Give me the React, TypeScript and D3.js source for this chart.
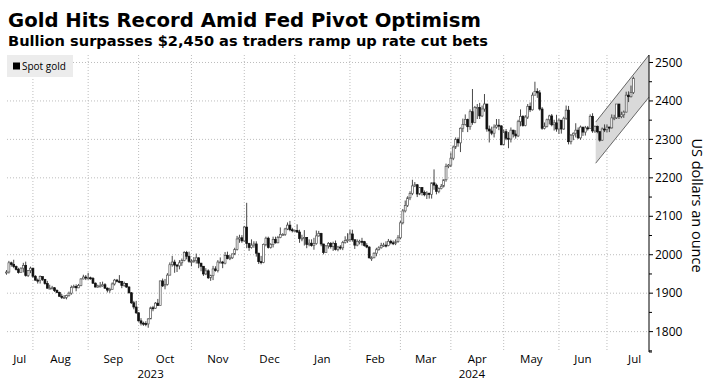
import React from "react";
import * as d3 from "d3";

const title = "Gold Hits Record Amid Fed Pivot Optimism";
const subtitle = "Bullion surpasses $2,450 as traders ramp up rate cut bets";
const seriesName = "Spot gold";
const yAxisTitle = "US dollars an ounce";

// Daily spot gold, weekdays 2023-07-17 .. 2024-07-16 (open = previous close)
const firstOpen = 1955;
const closes = [
  1955,1979,1975,1969,1962,1954,1965,1972,1946,1959,1965,
  1944,1934,1933,1943,1936,1925,1913,1913,1914,1907,1902,1892,1889,1889,1894,1900,1915,1917,1914,1920,1937,1942,1940,
  1940,1938,1926,1916,1919,1919,1922,1913,1908,1910,1924,1934,1931,1930,1920,1925,1916,1901,1875,1864,1849,
  1828,1822,1821,1820,1833,1862,1861,1874,1868,1932,1919,1923,1947,1974,1981,1973,1971,1979,1985,2006,1996,1983,
  1983,1985,1992,1978,1970,1950,1958,1940,1946,1963,1959,1981,1981,1978,1998,1990,1992,2002,2014,2041,2044,2036,
  2072,2029,2019,2025,2028,2004,1982,1980,2027,2043,2019,2027,2040,2031,2045,2053,2053,2067,2077,2065,2063,
  2063,2059,2042,2043,2045,2027,2030,2024,2029,2049,2055,2028,2006,2023,2029,2021,2029,2014,2020,2018,2032,2037,2039,
  2054,2039,2025,2035,2035,2034,2024,2020,1992,1992,2004,2013,2018,2024,2025,2024,2035,2031,2029,2034,2044,
  2083,2114,2128,2148,2159,2179,2182,2158,2175,2162,2156,2160,2157,2187,2181,2165,2172,2178,2195,2230,2233,
  2251,2280,2300,2291,2329,2339,2352,2333,2372,2344,2383,2383,2361,2379,2392,2327,2322,2316,2332,2337,2335,2286,
  2320,2303,2301,2324,2314,2309,2346,2360,2336,2358,2386,2377,2415,2425,2421,2379,2329,2334,2351,2361,2338,2343,2327,
  2350,2327,2355,2376,2294,2311,2316,2324,2304,2332,2319,2330,2328,2360,2322,2334,2320,2298,2327,2326,
  2332,2330,2356,2356,2392,2359,2364,2371,2415,2411,2422,2458,
];
const highs = [
  1960,1984,1982,1987,1972,1966,1967,1979,1982,1960,1969,
  1966,1947,1938,1946,1943,1937,1932,1922,1919,1916,1910,1904,1898,1895,1896,1904,1920,1922,1923,1924,1939,1948,1947,
  1953,1943,1942,1928,1922,1929,1930,1926,1915,1914,1928,1937,1937,1947,1932,1930,1926,1918,1903,1880,1880,
  1850,1835,1826,1827,1835,1865,1867,1877,1885,1932,1938,1937,1952,1980,1997,1987,1976,1986,1990,2009,2010,2008,
  1988,1994,2003,1993,1979,1969,1965,1962,1948,1971,1970,1986,1993,1984,2007,2008,1999,2003,2018,2049,2052,2051,
  2075,2135,2031,2040,2035,2035,2005,1997,2029,2047,2047,2030,2047,2047,2049,2071,2056,2070,2084,2088,2070,
  2065,2079,2065,2052,2064,2046,2040,2040,2044,2063,2062,2057,2028,2025,2033,2033,2034,2037,2023,2025,2036,2048,2056,
  2065,2065,2039,2040,2039,2044,2036,2030,2022,1996,2006,2018,2022,2031,2031,2035,2041,2039,2037,2040,2051,
  2088,2119,2141,2152,2165,2195,2189,2184,2176,2175,2167,2165,2161,2188,2222,2185,2175,2184,2196,2237,2236,
  2266,2284,2305,2305,2331,2354,2365,2354,2378,2431,2387,2392,2395,2388,2418,2391,2336,2333,2339,2353,2353,2337,
  2326,2327,2319,2331,2325,2324,2351,2378,2363,2363,2392,2396,2422,2450,2433,2428,2384,2344,2354,2364,2366,2351,2364,
  2354,2350,2359,2388,2387,2314,2318,2342,2331,2336,2332,2335,2335,2365,2368,2336,2336,2321,2331,2339,
  2339,2333,2365,2364,2392,2392,2372,2375,2424,2425,2440,2463,
];
const lows = [
  1948,1951,1969,1965,1959,1951,1954,1954,1943,1942,1952,
  1940,1932,1925,1925,1932,1922,1912,1911,1910,1903,1900,1891,1885,1886,1884,1891,1896,1913,1905,1913,1918,1936,1934,
  1935,1935,1924,1915,1914,1915,1917,1911,1902,1901,1910,1920,1928,1926,1913,1917,1914,1899,1872,1858,1846,
  1826,1816,1815,1814,1810,1833,1853,1859,1867,1868,1916,1910,1920,1946,1969,1953,1955,1962,1971,1983,1988,1979,
  1970,1979,1977,1965,1957,1945,1947,1937,1932,1934,1956,1954,1979,1965,1975,1988,1986,1989,1999,2011,2031,2031,
  2034,2017,2010,2016,2018,1995,1976,1975,1978,2022,2016,2016,2019,2029,2030,2043,2051,2049,2064,2061,2058,
  2061,2057,2031,2035,2024,2017,2022,2021,2013,2026,2047,2022,2001,2005,2016,2016,2010,2011,2009,2013,2012,2029,2031,
  2034,2034,2015,2022,2027,2024,2021,2017,1990,1984,1991,1996,2011,2016,2020,2019,2022,2027,2025,2025,2031,
  2040,2079,2110,2124,2142,2155,2176,2150,2155,2154,2152,2145,2146,2146,2169,2157,2160,2170,2175,2190,2225,
  2228,2246,2275,2281,2267,2319,2336,2319,2325,2338,2342,2353,2353,2358,2372,2320,2292,2311,2305,2328,2324,2285,
  2285,2298,2277,2292,2305,2302,2306,2334,2333,2334,2353,2371,2375,2415,2408,2375,2325,2326,2331,2339,2334,2323,2320,
  2314,2315,2325,2351,2287,2287,2298,2305,2301,2299,2309,2310,2323,2328,2317,2317,2316,2294,2296,2319,
  2318,2319,2328,2350,2353,2353,2355,2356,2370,2397,2409,2418,
];

const yTicks = [1800, 1900, 2000, 2100, 2200, 2300, 2400, 2500];
const yMinorTicks = [1750, 1850, 1950, 2050, 2150, 2250, 2350, 2450];

// Channel drawn over the last weeks
const channelStart = "2024-06-24";
const channelTop = [2345, 2519.5];
const channelBottom = [2238, 2410];

const W = 708;
const H = 382;
const FONT = "'Open Sans', 'Noto Sans', sans-serif";

export default function App() {
  const calendar = d3
    .timeDay.range(new Date(2023, 6, 17), new Date(2024, 7, 1))
    .filter((d) => d.getDay() !== 0 && d.getDay() !== 6);
  const fmtKey = d3.timeFormat("%Y-%m-%d");
  const idxOf = (s: string) => calendar.findIndex((d) => fmtKey(d) === s);

  const xMaxIdx = 267.5;
  const x = d3.scaleLinear().domain([0, xMaxIdx]).range([6.5, 649]);
  const y = d3.scaleLinear().domain([1747, 2519.5]).range([352, 55]);
  const plotLeft = 7;
  const plotRight = 649;
  const plotTop = 55;
  const plotBottom = 352;

  const candles = closes.map((c, i) => {
    const o = i === 0 ? firstOpen : closes[i - 1];
    const h = Math.max(highs[i], o, c);
    const l = Math.min(lows[i], o, c);
    return { i, o, c, h, l };
  });

  const months = d3.timeMonth.range(new Date(2023, 6, 1), new Date(2024, 7, 1));
  const firstIdxOfMonth = (m: Date) => {
    const k = calendar.findIndex((d) => d >= m);
    return k < 0 ? calendar.length : k;
  };
  const monthInfo = months.map((m) => {
    const next = d3.timeMonth.offset(m, 1);
    const s = m < calendar[0] ? 0 : firstIdxOfMonth(m);
    const e = firstIdxOfMonth(next);
    return { m, s, e, label: d3.timeFormat("%b")(m) };
  });
  const gridMonths = monthInfo.filter((mi) => mi.m > calendar[0]);

  const jan2024 = firstIdxOfMonth(new Date(2024, 0, 1));
  const years = [
    { label: "2023", cx: (x(0) + x(jan2024)) / 2 },
    { label: "2024", cx: (x(jan2024) + plotRight) / 2 },
  ];

  const cs = idxOf(channelStart) + 0.3;
  const channelPts: [number, number][] = [
    [x(cs), y(channelTop[0])],
    [x(xMaxIdx), y(channelTop[1])],
    [x(xMaxIdx), y(channelBottom[1])],
    [x(cs), y(channelBottom[0])],
  ];

  const bw = 1.9;

  return (
    <svg
      width={W}
      height={H}
      style={{ position: "absolute", left: 0, top: 0, background: "#fff" }}
    >
      <rect width={W} height={H} fill="#fff" />
      <text x={8} y={27} fontFamily="'DejaVu Sans', sans-serif" fontWeight="bold" fontSize={19.5} textLength={473} lengthAdjust="spacingAndGlyphs" fill="#000">
        {title}
      </text>
      <text x={8} y={46} fontFamily="'DejaVu Sans', sans-serif" fontWeight="bold" fontSize={14.5} textLength={480} lengthAdjust="spacingAndGlyphs" fill="#000">
        {subtitle}
      </text>

      {yTicks.map((t) => (
        <line key={"hg" + t} x1={plotLeft} x2={plotRight} y1={y(t)} y2={y(t)} stroke="#bdbdbd" strokeDasharray="1,2" strokeWidth={1} />
      ))}
      {gridMonths.map((mi) => (
        <line key={"vg" + mi.s} x1={x(mi.s)} x2={x(mi.s)} y1={plotTop} y2={plotBottom} stroke="#bdbdbd" strokeDasharray="1,2" strokeWidth={1} />
      ))}

      <polygon points={channelPts.map((p) => p.join(",")).join(" ")} fill="#d9d9d9" stroke="none" />
      <line x1={channelPts[0][0]} y1={channelPts[0][1]} x2={channelPts[1][0]} y2={channelPts[1][1]} stroke="#444" strokeWidth={0.8} />
      <line x1={channelPts[3][0]} y1={channelPts[3][1]} x2={channelPts[2][0]} y2={channelPts[2][1]} stroke="#444" strokeWidth={0.8} />

      {candles.map((d) => {
        const cx = x(d.i);
        const up = d.c >= d.o;
        const top = y(Math.max(d.o, d.c));
        const bot = y(Math.min(d.o, d.c));
        const hgt = Math.max(1, bot - top);
        return (
          <g key={"c" + d.i}>
            <line x1={cx} x2={cx} y1={y(d.h)} y2={y(d.l)} stroke="#333" strokeWidth={0.9} />
            <rect
              x={cx - bw / 2}
              y={top}
              width={bw}
              height={hgt}
              fill={up ? "#fff" : "#111"}
              stroke={up ? "#555" : "#111"}
              strokeWidth={0.7}
            />
          </g>
        );
      })}

      <line x1={plotRight} x2={plotRight} y1={plotTop} y2={plotBottom} stroke="#000" strokeWidth={1} />
      <line x1={plotRight} x2={plotRight + 3} y1={plotBottom} y2={plotBottom} stroke="#000" strokeWidth={1} />
      {yTicks.map((t) => (
        <g key={"yt" + t}>
          <line x1={plotRight} x2={plotRight + 4} y1={y(t)} y2={y(t)} stroke="#000" strokeWidth={1} />
          <text x={655} y={y(t)} dy="0.35em" fontFamily={FONT} fontSize={12} fill="#000">
            {t}
          </text>
        </g>
      ))}
      {yMinorTicks.map((t) => (
        <line key={"ym" + t} x1={plotRight} x2={plotRight + 3} y1={y(t)} y2={y(t)} stroke="#000" strokeWidth={1} />
      ))}
      <text
        transform={`translate(692, ${(plotTop + plotBottom) / 2 + 2}) rotate(90)`}
        textAnchor="middle"
        fontFamily={FONT}
        fontSize={14.5}
        fill="#000"
      >
        {yAxisTitle}
      </text>

      {monthInfo.map((mi) => (
        <text key={"ml" + mi.s} x={(x(mi.s) + x(mi.e)) / 2} y={363} textAnchor="middle" fontFamily={FONT} fontSize={11.5} fill="#000">
          {mi.label}
        </text>
      ))}
      {years.map((yy) => (
        <text key={yy.label} x={yy.cx} y={378} textAnchor="middle" fontFamily={FONT} fontSize={11.5} fill="#000">
          {yy.label}
        </text>
      ))}

      <rect x={7} y={55} width={66} height={22} fill="#ececec" />
      <rect x={13} y={62.5} width={7} height={7} fill="#000" />
      <text x={22} y={70} fontFamily={FONT} fontSize={10} fill="#000">
        {seriesName}
      </text>
    </svg>
  );
}
